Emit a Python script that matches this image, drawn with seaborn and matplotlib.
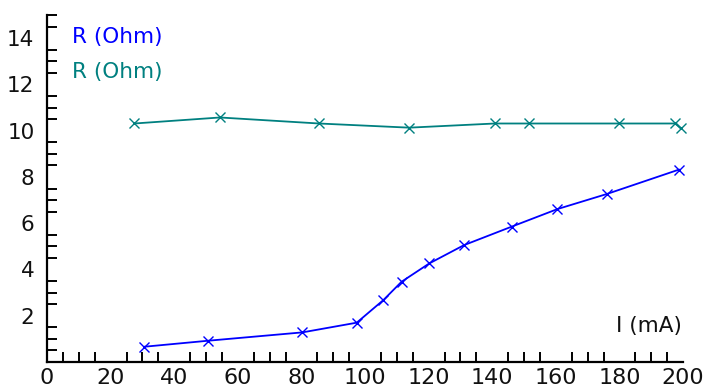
import matplotlib
matplotlib.use("Agg")
import matplotlib.pyplot as plt
from matplotlib.ticker import MultipleLocator
import seaborn as sns
import pandas as pd

# Current (mA) and resistance (Ohm) for the two measurement series
current_a = [30.6, 50.7, 80.3, 97.4, 105.8, 111.5, 120.2, 131.1, 146.1, 160.5, 176.0, 198.8]
resist_a = [0.66, 0.92, 1.28, 1.70, 2.68, 3.47, 4.26, 5.05, 5.85, 6.61, 7.26, 8.32]

current_b = [27.5, 54.4, 85.5, 113.9, 140.9, 151.7, 180.0, 197.5, 199.4]
resist_b = [10.31, 10.57, 10.31, 10.13, 10.31, 10.31, 10.31, 10.31, 10.10]

series_labels = ["R (Ohm)", "R (Ohm)"]
x_label = "I (mA)"
colors = ["#0000FF", "#008080"]

df_a = pd.DataFrame({"I": current_a, "R": resist_a})
df_b = pd.DataFrame({"I": current_b, "R": resist_b})

sns.set_style("white")
plt.rcParams["font.family"] = ["DejaVu Sans"]

fig = plt.figure(figsize=(7.07, 3.90), dpi=100)
ax = fig.add_axes([47 / 707, 28 / 390, 636 / 707, 347 / 390])

for df, col in [(df_b, colors[1]), (df_a, colors[0])]:
    sns.lineplot(data=df, x="I", y="R", ax=ax, color=col, marker="x",
                 markersize=6.5, markeredgewidth=1.0, markeredgecolor=col,
                 linewidth=1.3, sort=False, estimator=None, clip_on=False)

ax.set_xlim(0, 200)
ax.set_ylim(0, 15)
ax.set_xlabel("")
ax.set_ylabel("")

for s in ["top", "right"]:
    ax.spines[s].set_visible(False)
for s in ["left", "bottom"]:
    ax.spines[s].set_linewidth(1.6)
    ax.spines[s].set_color("black")

ax.xaxis.set_major_locator(MultipleLocator(20))
ax.xaxis.set_minor_locator(MultipleLocator(5))
ax.yaxis.set_major_locator(MultipleLocator(2))
ax.yaxis.set_minor_locator(MultipleLocator(0.5))
ax.set_yticks([2, 4, 6, 8, 10, 12, 14])

ax.tick_params(which="major", direction="in", length=11, width=1.4,
               color="black", labelcolor="#111111")
ax.tick_params(which="minor", direction="in", length=7.5, width=1.4,
               color="black")
ax.tick_params(axis="x", which="major", pad=4, labelsize=16)
ax.tick_params(axis="y", which="major", pad=9, labelsize=15.5)
ax.tick_params(axis="y", which="minor", left=True)
ax.tick_params(axis="x", which="minor", bottom=True)

ax.text(8.0, 14.05, series_labels[0], color=colors[0], fontsize=15.5,
        va="center", ha="left")
ax.text(8.0, 12.55, series_labels[1], color=colors[1], fontsize=15.5,
        va="center", ha="left")
ax.text(199.8, 1.55, x_label, color="#111111", fontsize=15.5,
        va="center", ha="right")

ax.grid(False)
fig.savefig("out.png", dpi=100)
